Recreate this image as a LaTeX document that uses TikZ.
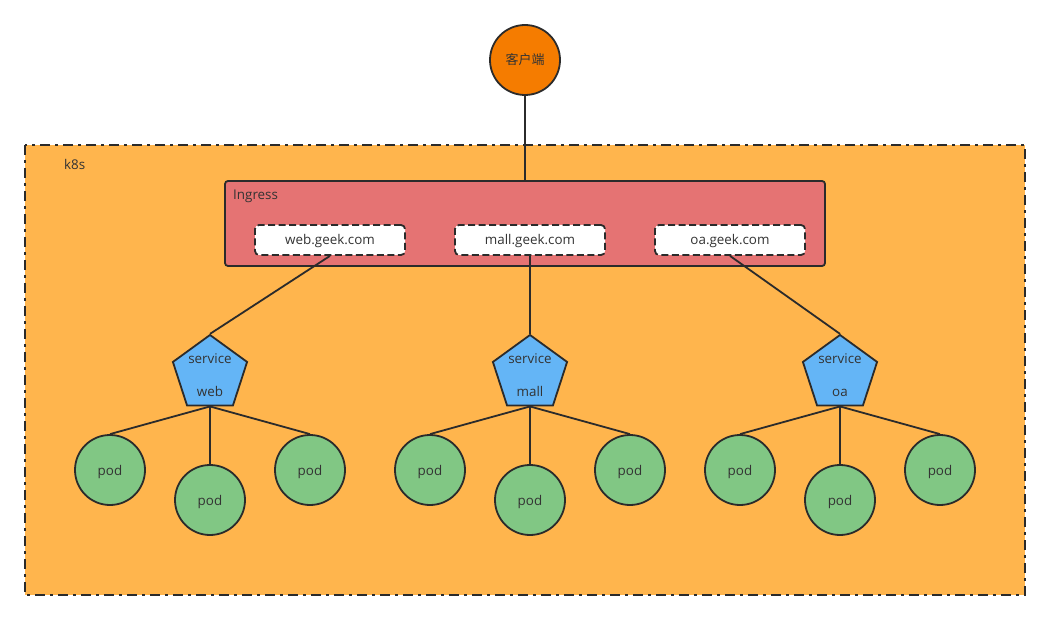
\documentclass[tikz,border=0pt]{standalone}
\usepackage{fontspec}
\setmainfont{Open Sans}
\newfontfamily\cjk{Noto Sans CJK SC}
\usetikzlibrary{shapes.geometric}
\definecolor{ink}{HTML}{2B2B2B}
\definecolor{txt}{HTML}{333333}
\definecolor{clientc}{HTML}{F57C00}
\definecolor{k8sc}{HTML}{FFB54D}
\definecolor{ingc}{HTML}{E57373}
\definecolor{svcc}{HTML}{64B5F6}
\definecolor{podc}{HTML}{81C784}
\tikzset{
  tfont/.style={text=txt, font=\fontsize{13.4}{15}\selectfont, text height=13pt, text depth=3pt},
  lbl/.style={tfont, inner sep=0pt},
  conn/.style={draw=ink, line width=1.8pt},
  client/.style={circle, draw=ink, line width=1.8pt, fill=clientc, minimum size=70pt, inner sep=0pt, text=txt, font=\cjk\fontsize{13}{15}\selectfont, text height=12pt, text depth=2pt},
  k8sbox/.style={draw=ink, line width=2.6pt, fill=k8sc, dash pattern=on 10pt off 5pt on 3pt off 5pt},
  ingbox/.style={draw=ink, line width=1.8pt, fill=ingc, rounded corners=3pt},
  dombox/.style={draw=ink, line width=1.8pt, fill=white, rounded corners=4pt, dash pattern=on 7pt off 3.5pt, minimum width=150pt, minimum height=30pt, inner sep=0pt, tfont},
  svc/.style={regular polygon, regular polygon sides=5, draw=ink, line width=1.8pt, fill=svcc, minimum size=78pt, inner sep=0pt},
  pod/.style={circle, draw=ink, line width=1.8pt, fill=podc, minimum size=70pt, inner sep=0pt, tfont},
}
\begin{document}
\begin{tikzpicture}[x=1pt,y=-1pt]
\useasboundingbox (0,0) rectangle (1050,620);
% k8s area
\draw[k8sbox] (25,145) rectangle (1025,595);
\node[lbl, anchor=west] (k8slbl) at (64,165) {k8s};
% ingress
\node[ingbox, minimum width=600pt, minimum height=85pt, inner sep=0pt] (ing) at (525,223.5) {};
\node[lbl, anchor=west] (inglbl) at (233,195) {Ingress};
\node[dombox] (web) at (330,240) {web.geek.com};
\node[dombox] (mall) at (530,240) {mall.geek.com};
\node[dombox] (oa) at (730,240) {oa.geek.com};
% client
\node[client] (cl) at (525,60) {客户端};
\draw[conn] (cl.south) -- (ing.north);
% services
\foreach \n/\x/\t in {sw/210/web, sm/530/mall, so/840/oa}{
  \node[svc] (\n) at (\x,374) {};
  \node[lbl] (\n t1) at (\x,359) {service};
  \node[lbl] (\n t2) at (\x,391) {\t};
}
\draw[conn] (web.south) -- (sw.corner 1);
\draw[conn] (mall.south) -- (sm.corner 1);
\draw[conn] (oa.south) -- (so.corner 1);
% pods
\foreach \s/\x in {sw/210, sm/530, so/840}{
  \node[pod] (\s pl) at (\x-100,470) {pod};
  \node[pod] (\s pm) at (\x,500) {pod};
  \node[pod] (\s pr) at (\x+100,470) {pod};
  \draw[conn] (\s.south) -- (\s pl.north);
  \draw[conn] (\s.south) -- (\s pm.north);
  \draw[conn] (\s.south) -- (\s pr.north);
}
\end{tikzpicture}
\end{document}
